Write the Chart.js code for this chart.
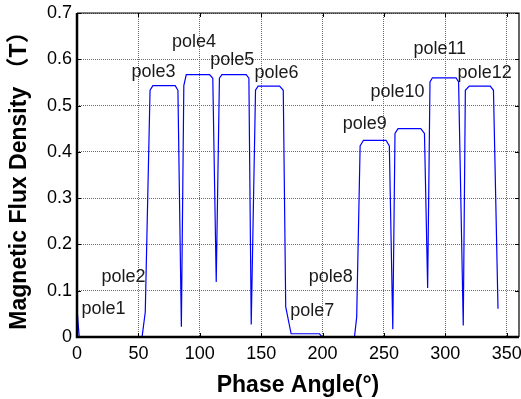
<!DOCTYPE html>
<html>
<head>
<meta charset="utf-8">
<script src="https://cdn.jsdelivr.net/npm/chart.js@4.4.1/dist/chart.umd.min.js"></script>
<style>
  html, body { margin: 0; padding: 0; background: #fff; }
  #wrap { width: 521px; height: 399px; position: relative; }
</style>
</head>
<body>
<div id="wrap"><canvas id="c" width="521" height="399"></canvas></div>
<script>
// ---- Data ----
const phaseAngles = [0, 1.8, 53, 55.6, 59.5, 61.8, 80, 82.2, 85, 87, 89, 108, 110.6, 113.4, 116, 118, 137.8, 140, 141.9,
  145.4, 147.5, 165, 168, 170, 174.4, 197.5, 199.7, 226, 227.8, 230.6, 233.3, 251.7, 254.4, 257.2,
  259, 261.5, 280, 283, 285.6, 287.5, 289.5, 308.7, 310.8, 314.6, 316.3, 319.5, 336.6, 339.2, 342.9];
const fluxDensity = [0.062, 0, 0, 0.054, 0.533, 0.543, 0.543, 0.533, 0.022, 0.543, 0.567, 0.567, 0.559, 0.119, 0.559, 0.567, 0.567, 0.559, 0.027,
  0.533, 0.542, 0.542, 0.533, 0.065, 0.007, 0.007, 0, 0, 0.043, 0.413, 0.425, 0.425, 0.413, 0.017,
  0.44, 0.45, 0.45, 0.44, 0.106, 0.551, 0.56, 0.56, 0.551, 0.025, 0.533, 0.542, 0.542, 0.533, 0.061];

const poleNames = ['pole1','pole2','pole3','pole4','pole5','pole6','pole7','pole8','pole9','pole10','pole11','pole12'];
const poleLabelX = [3.6, 19.9, 44.3, 77.3, 108.5, 144.6, 173.6, 188.8, 216.4, 239, 274, 310];
const poleLabelY = [0.061, 0.130, 0.572, 0.637, 0.599, 0.570, 0.056, 0.130, 0.461, 0.529, 0.623, 0.570];

const xTicks = [0, 50, 100, 150, 200, 250, 300, 350];
const yTicks = [0, 0.1, 0.2, 0.3, 0.4, 0.5, 0.6, 0.7];

const points = phaseAngles.map((a, i) => ({ x: a, y: fluxDensity[i] }));

const FONT = "'Liberation Sans', Arial, sans-serif";

const framePlugin = {
  id: 'frame',
  afterDatasetsDraw(chart) {
    const ctx = chart.ctx;
    const a = chart.chartArea;
    const xs = chart.scales.x, ys = chart.scales.y;
    ctx.save();
    // annotations
    ctx.font = '18px ' + FONT;
    ctx.fillStyle = '#1a1a1a';
    ctx.textAlign = 'left';
    ctx.textBaseline = 'middle';
    poleNames.forEach((n, i) => {
      ctx.fillText(n, xs.getPixelForValue(poleLabelX[i]), ys.getPixelForValue(poleLabelY[i]));
    });
    // inward ticks
    ctx.strokeStyle = '#000';
    ctx.lineWidth = 1;
    const tl = 4;
    xTicks.forEach(v => {
      const px = Math.round(xs.getPixelForValue(v)) + 0.5;
      ctx.beginPath();
      ctx.moveTo(px, a.bottom); ctx.lineTo(px, a.bottom - tl);
      ctx.moveTo(px, a.top); ctx.lineTo(px, a.top + tl);
      ctx.stroke();
    });
    yTicks.forEach(v => {
      const py = Math.round(ys.getPixelForValue(v)) + 0.5;
      ctx.beginPath();
      ctx.moveTo(a.left, py); ctx.lineTo(a.left + tl, py);
      ctx.moveTo(a.right, py); ctx.lineTo(a.right - tl, py);
      ctx.stroke();
    });
    // box
    ctx.lineWidth = 1.2;
    ctx.beginPath();
    ctx.moveTo(a.left, a.top); ctx.lineTo(a.right, a.top); ctx.lineTo(a.right, a.bottom);
    ctx.stroke();
    ctx.lineWidth = 2.5;
    ctx.beginPath();
    ctx.moveTo(a.left, a.top); ctx.lineTo(a.left, a.bottom); ctx.lineTo(a.right, a.bottom);
    ctx.stroke();
    ctx.restore();
  }
};

new Chart(document.getElementById('c'), {
  type: 'line',
  data: {
    datasets: [{
      data: points,
      borderColor: '#0000ff',
      borderWidth: 1.2,
      pointRadius: 0,
      tension: 0,
      fill: false
    }]
  },
  options: {
    responsive: false,
    animation: false,
    events: [],
    layout: { padding: { top: 13, right: 2, left: 0, bottom: 0 } },
    plugins: { legend: { display: false }, tooltip: { enabled: false } },
    scales: {
      x: {
        type: 'linear',
        min: 0, max: 360,
        afterBuildTicks: s => { s.ticks = xTicks.map(v => ({ value: v })); },
        afterFit: s => { s.height = 62; s.paddingLeft = 0; s.paddingRight = 0; },
        border: { display: false, dash: [1, 1] },
        grid: { color: '#6a6a6a', lineWidth: 1, drawTicks: false },
        ticks: { color: '#000', font: { size: 18, family: FONT }, padding: 6, maxRotation: 0, autoSkip: false },
        title: { display: true, text: 'Phase Angle(°)', color: '#000',
          font: { size: 23, weight: 'bold', family: FONT }, padding: { top: 0, bottom: 0 } }
      },
      y: {
        type: 'linear',
        min: 0, max: 0.7,
        afterBuildTicks: s => { s.ticks = yTicks.map(v => ({ value: v })); },
        afterFit: s => { s.width = 77; s.paddingTop = 0; s.paddingBottom = 0; },
        border: { display: false, dash: [1, 1] },
        grid: { color: '#6a6a6a', lineWidth: 1, drawTicks: false },
        ticks: { color: '#000', font: { size: 18, family: FONT }, padding: 5,
          callback: v => String(Math.round(v * 10) / 10) },
        title: { display: true, text: 'Magnetic Flux Density （T）', color: '#000',
          font: { size: 23, weight: 'bold', family: FONT + ", 'Noto Sans CJK SC'" }, padding: { top: 6, bottom: 0 } }
      }
    }
  },
  plugins: [framePlugin]
});
</script>
</body>
</html>
